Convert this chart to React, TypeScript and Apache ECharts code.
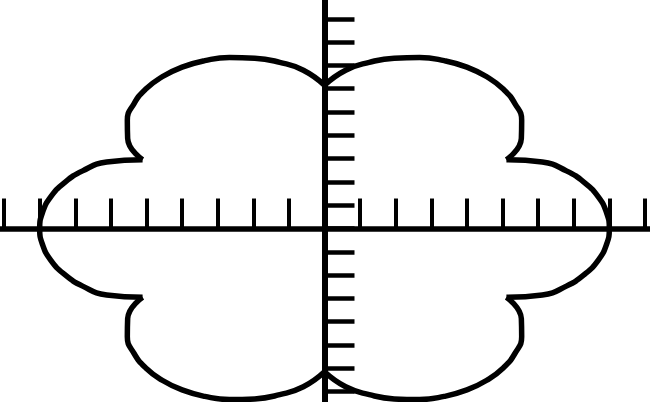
import React, { useEffect, useRef } from "react";
import * as echarts from "echarts";

// Polar samples of the curve (degrees, radius in axis units)
const angleDeg = [
  0, 5, 10, 15, 20, 25, 30, 35, 40, 45, 50, 55,
  60, 65, 70, 75, 80, 85, 90, 95, 100, 105, 110, 115,
  120, 125, 130, 135, 140, 145, 150, 155, 160, 165, 170, 175,
  180, 185, 190, 195, 200, 205, 210, 215, 220, 225, 230, 235,
  240, 245, 250, 255, 260, 265, 270, 275, 280, 285, 290, 295,
  300, 305, 310, 315, 320, 325, 330, 335, 340, 345, 350, 355,
];
const radius = [
  8.0, 7.95, 7.81, 7.57, 7.23, 6.75, 5.9, 6.75, 7.23, 7.57, 7.81, 7.95,
  8.0, 7.95, 7.81, 7.57, 7.24, 6.82, 6.15, 6.82, 7.24, 7.57, 7.81, 7.95,
  8.0, 7.95, 7.81, 7.57, 7.23, 6.75, 5.9, 6.75, 7.23, 7.57, 7.81, 7.95,
  8.0, 7.95, 7.81, 7.57, 7.23, 6.75, 5.9, 6.75, 7.23, 7.57, 7.81, 7.95,
  8.0, 7.95, 7.81, 7.57, 7.24, 6.82, 6.15, 6.82, 7.24, 7.57, 7.81, 7.95,
  8.0, 7.95, 7.81, 7.57, 7.23, 6.75, 5.9, 6.75, 7.23, 7.57, 7.81, 7.95,
];

// Tick values
const xTicks = [-9, -8, -7, -6, -5, -4, -3, -2, -1, 0, 1, 2, 3, 4, 5, 6, 7, 8, 9];
const yTicks = [-7, -6, -5, -4, -3, -2, -1, 0, 1, 2, 3, 4, 5, 6, 7, 8, 9];

// Visible window
const xRange = [-9.115, 9.143];
const yRange = [-7.446, 9.807];

function buildLobes(): number[][][] {
  const n = radius.length;
  const pts = angleDeg.map((a, i) => {
    const t = (a * Math.PI) / 180;
    return [radius[i] * Math.cos(t), radius[i] * Math.sin(t)];
  });
  // cusps = local minima of radius
  const cusps: number[] = [];
  for (let i = 0; i < n; i++) {
    const p = radius[(i - 1 + n) % n];
    const q = radius[(i + 1) % n];
    if (radius[i] < p && radius[i] < q) cusps.push(i);
  }
  const lobes: number[][][] = [];
  for (let k = 0; k < cusps.length; k++) {
    const s = cusps[k];
    const e = cusps[(k + 1) % cusps.length];
    const seg: number[][] = [];
    let i = s;
    seg.push(pts[i]);
    while (i !== e) {
      i = (i + 1) % n;
      seg.push(pts[i]);
    }
    lobes.push(seg);
  }
  return lobes;
}

export default function App() {
  const ref = useRef<HTMLDivElement>(null);
  useEffect(() => {
    if (!ref.current) return;
    const chart = echarts.init(ref.current, null, { renderer: "svg" });
    const lobes = buildLobes();
    chart.setOption({
      animation: false,
      backgroundColor: "#ffffff",
      grid: { left: 0, right: 0, top: 0, bottom: 0, containLabel: false },
      xAxis: {
        type: "value",
        min: xRange[0],
        max: xRange[1],
        axisLine: { show: true, onZero: true, lineStyle: { color: "#000", width: 5.5 } },
        axisTick: {
          show: true,
          inside: true,
          length: 30,
          customValues: xTicks,
          lineStyle: { color: "#000", width: 4 },
        },
        axisLabel: { show: false },
        splitLine: { show: false },
      },
      yAxis: {
        type: "value",
        min: yRange[0],
        max: yRange[1],
        axisLine: { show: true, onZero: true, lineStyle: { color: "#000", width: 6 } },
        axisTick: {
          show: true,
          inside: true,
          length: 30,
          customValues: yTicks,
          lineStyle: { color: "#000", width: 4.5 },
        },
        axisLabel: { show: false },
        splitLine: { show: false },
      },
      series: lobes.map((seg) => ({
        type: "line",
        data: seg,
        smooth: 0.5,
        symbol: "none",
        lineStyle: { color: "#000", width: 5.5 },
        z: 3,
      })),
    });
    return () => chart.dispose();
  }, []);
  return (
    <div
      ref={ref}
      style={{ position: "fixed", left: 0, top: 0, width: 650, height: 402, background: "#fff" }}
    />
  );
}
